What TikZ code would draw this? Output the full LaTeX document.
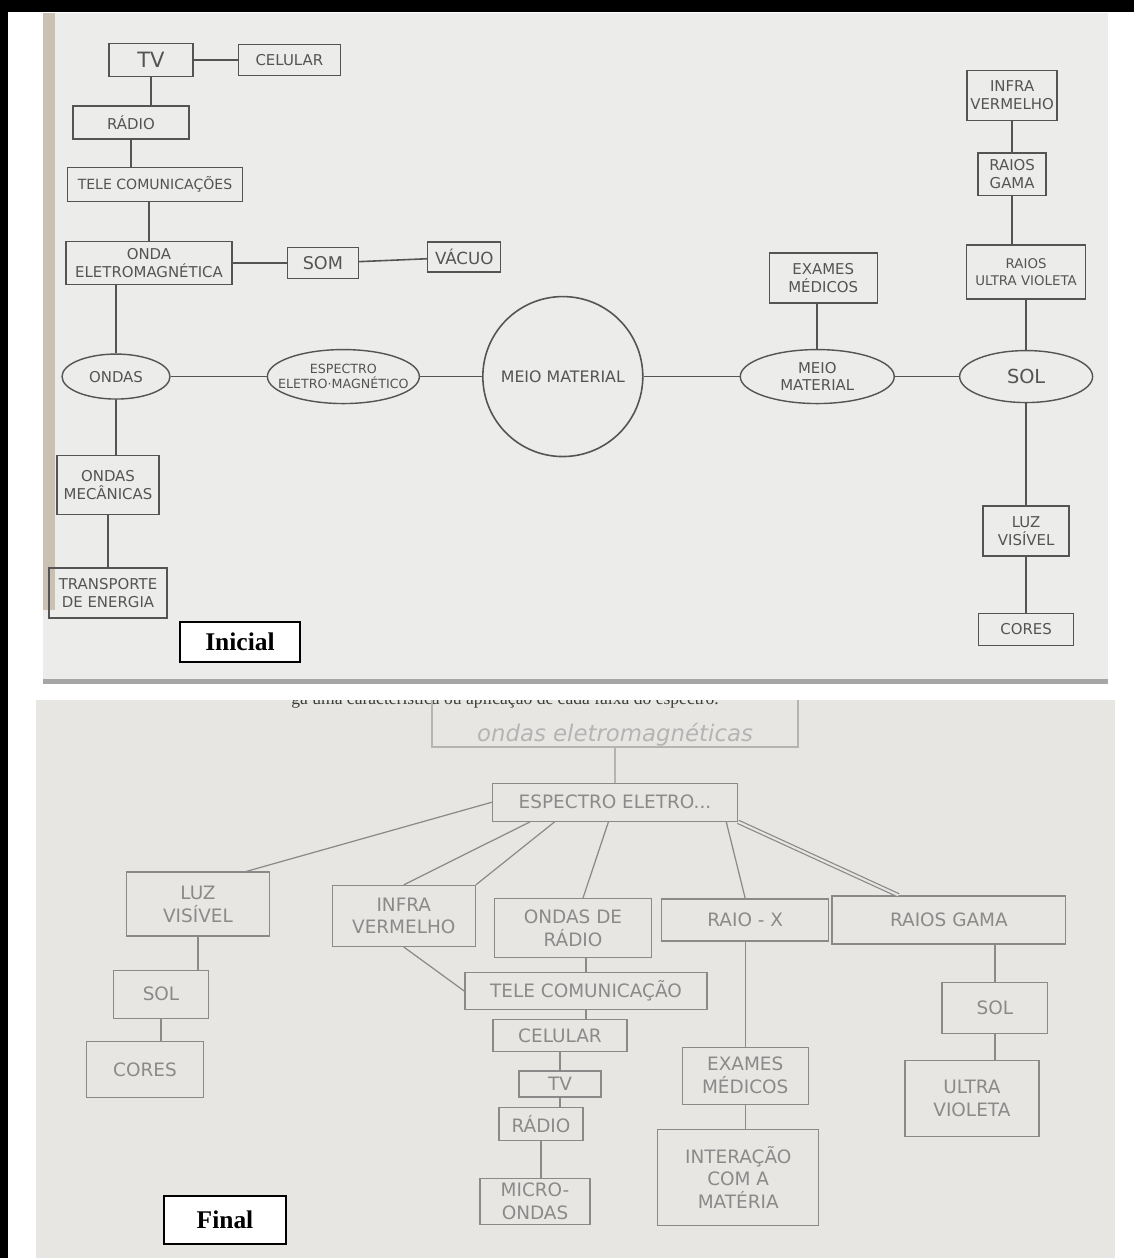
\documentclass[tikz,border=0pt]{standalone}
\usepackage{fontspec}
\usetikzlibrary{shapes,shapes.geometric,positioning}
\newfontfamily\hand{DejaVu Sans}
\newfontfamily\tnr{Liberation Serif}
\definecolor{pencil}{HTML}{545454}
\definecolor{pencilsoft}{HTML}{8A8A8A}
\definecolor{ghost}{HTML}{B4B4B4}
\definecolor{paper}{HTML}{ECECEA}
\definecolor{paperb}{HTML}{E7E6E3}
\definecolor{desk}{HTML}{CBC1B2}
\definecolor{printed}{HTML}{3C3C3C}

\begin{document}
\begin{tikzpicture}[
    x=0.02cm,y=-0.02cm,node distance=1cm,
    font=\hand\fontsize{8.5}{10}\selectfont,
    every label/.style={text=pencil,align=center},
    box/.style={draw=pencil,line width=0.8pt,inner sep=1pt,align=center,text=pencil},
    oval/.style={ellipse,draw=pencil,line width=0.8pt,inner sep=0pt},
    fbox/.style={draw=pencilsoft,line width=0.7pt,inner sep=1pt,align=center,text=pencilsoft,
        font=\hand\fontsize{10.5}{13}\selectfont},
    tag/.style={draw=black,line width=1.2pt,fill=white,text=black,
        font=\tnr\bfseries\fontsize{14.5}{16}\selectfont},
    link/.style={draw=pencil,line width=0.9pt},
    flink/.style={draw=pencilsoft,line width=0.7pt}]
    \useasboundingbox (0,0) rectangle (1134,1258);
    \fill[black] (0,0) rectangle (8,1258);
    \fill[black] (0,0) rectangle (1134,12);
    \fill[paper] (43,13) rectangle (1108,684);
    \fill[desk] (43,13) rectangle (55,610);
    \fill[black!35] (43,679) rectangle (1108,684);
    \fill[paperb] (36,700) rectangle (1115,1258);

    \node[box,minimum width=1.68cm,minimum height=.66cm,font=\hand\fontsize{12}{13}\selectfont] (TV) at (151,60) {TV};
    \node[box,minimum width=2.04cm,minimum height=.62cm] (CELULAR) [right=.88cm of TV] {CELULAR};
    \node[box,minimum width=2.32cm,minimum height=.66cm] (RADIO) [below=.56cm of TV,xshift=-.4cm] {RÁDIO};
    \node[box,minimum width=3.5cm,minimum height=.68cm,font=\hand\fontsize{8}{10}\selectfont] (TELECOM) [below=.54cm of RADIO,xshift=.48cm] {TELE COMUNICAÇÕES};
    \node[box,minimum width=3.32cm,minimum height=.86cm] (ONDAEM) [below=.78cm of TELECOM,xshift=-.12cm] {ONDA\\ELETROMAGNÉTICA};
    \node[box,minimum width=1.42cm,minimum height=.62cm,font=\hand\fontsize{10}{11}\selectfont] (SOM) [right=1.08cm of ONDAEM] {SOM};
    \node[box,minimum width=1.46cm,minimum height=.6cm,font=\hand\fontsize{9.5}{11}\selectfont] (VACUO) [right=1.36cm of SOM,yshift=.12cm] {VÁCUO};
    \node[oval,minimum width=2.16cm,minimum height=.9cm,label=center:ONDAS] (ONDAS) [below=1.36cm of ONDAEM,xshift=-.66cm] {};
    \node[box,minimum width=2.04cm,minimum height=1.18cm] (MECANICAS) [below=1.1cm of ONDAS,xshift=-.16cm] {ONDAS\\MECÂNICAS};
    \node[box,minimum width=2.36cm,minimum height=1cm] (TRANSPORTE) [below=1.04cm of MECANICAS] {TRANSPORTE\\DE ENERGIA};
    \node[oval,minimum width=3.04cm,minimum height=1.08cm,label={[font=\hand\fontsize{7.2}{8.8}\selectfont]center:{ESPECTRO\\ELETRO·MAGNÉTICO}}] (ESPECTRO) [right=1.92cm of ONDAS] {};
    \node[circle,draw=pencil,line width=0.9pt,minimum size=3.2cm,label={[font=\hand\fontsize{9}{10}\selectfont]center:MEIO MATERIAL}] (MEIO) [right=1.24cm of ESPECTRO] {};
    \node[oval,minimum width=3.08cm,minimum height=1.08cm,label=center:{MEIO\\MATERIAL}] (MEIOMAT) [right=1.92cm of MEIO] {};
    \node[oval,minimum width=2.66cm,minimum height=1.04cm,label={[font=\hand\fontsize{11}{12}\selectfont]center:SOL}] (SOL) [right=1.28cm of MEIOMAT] {};
    \node[box,minimum width=2.16cm,minimum height=1cm] (EXAMES) [above=.9cm of MEIOMAT,xshift=.12cm] {EXAMES\\MÉDICOS};
    \node[box,minimum width=2.38cm,minimum height=1.08cm,font=\hand\fontsize{7.6}{10}\selectfont] (RAIOSUV) [above=1cm of SOL] {RAIOS\\ULTRA VIOLETA};
    \node[box,minimum width=1.36cm,minimum height=.86cm] (RAIOSGAMA) [above=.96cm of RAIOSUV,xshift=-.28cm] {RAIOS\\GAMA};
    \node[box,minimum width=1.8cm,minimum height=1cm] (INFRA) [above=.62cm of RAIOSGAMA] {INFRA\\VERMELHO};
    \node[box,minimum width=1.72cm,minimum height=1cm] (LUZ) [below=2.04cm of SOL] {LUZ\\VISÍVEL};
    \node[box,minimum width=1.9cm,minimum height=.64cm] (CORES) [below=1.12cm of LUZ] {CORES};
    \node[tag,minimum width=2.4cm,minimum height=.8cm] (INICIAL) at (240,642) {Inicial};

    \draw[link] (TV) -- (CELULAR);
    \draw[link] (TV) -- (TV |- RADIO.north);
    \draw[link] (RADIO) -- (RADIO |- TELECOM.north);
    \draw[link] (ONDAEM) -- (ONDAEM |- TELECOM.south);
    \draw[link] (ONDAEM) -- (SOM);
    \draw[link] (SOM) -- (VACUO);
    \draw[link] (ONDAS) -- (ONDAS |- ONDAEM.south);
    \draw[link] (ONDAS) -- (ONDAS |- MECANICAS.north);
    \draw[link] (TRANSPORTE) -- (TRANSPORTE |- MECANICAS.south);
    \draw[link] (ONDAS) -- (ESPECTRO);
    \draw[link] (ESPECTRO) -- (MEIO);
    \draw[link] (MEIO) -- (MEIOMAT);
    \draw[link] (MEIOMAT) -- (SOL);
    \draw[link] (MEIOMAT) -- (MEIOMAT |- EXAMES.south);
    \draw[link] (INFRA) -- (RAIOSGAMA);
    \draw[link] (RAIOSGAMA) -- (RAIOSGAMA |- RAIOSUV.north);
    \draw[link] (RAIOSUV) -- (SOL);
    \draw[link] (SOL) -- (LUZ);
    \draw[link] (LUZ) -- (CORES);

    \begin{scope}
    \clip (36,700) rectangle (1115,1258);
    \node[font=\tnr\fontsize{10}{12}\selectfont,text=printed,anchor=base] (ENUNCIADO) at (505,704) {ga uma característica ou aplicação de cada faixa do espectro.};
    \node[fbox,draw=ghost,minimum width=7.32cm,minimum height=1cm,label={[text=ghost,font=\hand\itshape\fontsize{13}{15}\selectfont,yshift=-7pt]center:ondas eletromagnéticas}] (ONDASEM) at (615,722) {};
    \node[fbox,minimum width=4.9cm,minimum height=.76cm] (ESPECEL) [below=.7cm of ONDASEM] {ESPECTRO ELETRO...};
    \node[fbox,minimum width=3.14cm,minimum height=1.18cm] (ONDASRADIO) [below=1.52cm of ESPECEL,xshift=-.84cm] {ONDAS DE\\RÁDIO};
    \node[fbox,minimum width=2.86cm,minimum height=1.22cm] (INFRAV) [left=.36cm of ONDASRADIO,yshift=.24cm] {INFRA\\VERMELHO};
    \node[fbox,minimum width=3.34cm,minimum height=.84cm] (RAIOX) [right=.18cm of ONDASRADIO,yshift=.16cm] {RAIO - X};
    \node[fbox,minimum width=4.68cm,minimum height=.96cm] (GAMA) [right=.04cm of RAIOX] {RAIOS GAMA};
    \node[fbox,minimum width=2.86cm,minimum height=1.28cm] (LUZVIS) at (198,904) {LUZ\\VISÍVEL};
    \node[fbox,minimum width=1.9cm,minimum height=.96cm] (SOLB) [below=.66cm of LUZVIS,xshift=-.74cm] {SOL};
    \node[fbox,minimum width=2.34cm,minimum height=1.12cm] (CORESB) [below=.44cm of SOLB,xshift=-.32cm] {CORES};
    \node[fbox,minimum width=4.84cm,minimum height=.74cm] (TELECOMB) [below=.28cm of ONDASRADIO,xshift=.26cm] {TELE COMUNICAÇÃO};
    \node[fbox,minimum width=2.68cm,minimum height=.64cm] (CELULARB) [below=.18cm of TELECOMB,xshift=-.52cm] {CELULAR};
    \node[fbox,minimum width=1.64cm,minimum height=.52cm] (TVB) [below=.36cm of CELULARB] {TV};
    \node[fbox,minimum width=1.68cm,minimum height=.66cm] (RADIOB) [below=.18cm of TVB,xshift=-.38cm] {RÁDIO};
    \node[fbox,minimum width=2.2cm,minimum height=.92cm] (MICRO) [below=.74cm of RADIOB,xshift=-.12cm] {MICRO-\\ONDAS};
    \node[fbox,minimum width=2.52cm,minimum height=1.14cm] (EXAMESB) [below=2.1cm of RAIOX] {EXAMES\\MÉDICOS};
    \node[fbox,minimum width=3.22cm,minimum height=1.92cm] (INTERACAO) [below=.48cm of EXAMESB,xshift=-.14cm] {INTERAÇÃO\\COM A\\MATÉRIA};
    \node[fbox,minimum width=2.12cm,minimum height=1.02cm] (SOLC) [below=.74cm of GAMA,xshift=.92cm] {SOL};
    \node[fbox,minimum width=2.68cm,minimum height=1.52cm] (ULTRAV) [below=.52cm of SOLC,xshift=-.46cm] {ULTRA\\VIOLETA};
    \node[tag,minimum width=2.44cm,minimum height=.96cm] (FINAL) at (225,1220) {Final};

    \draw[flink,draw=ghost] (ONDASEM) -- (ESPECEL);
    \draw[flink] (ESPECEL.west) -- (LUZVIS.34);
    \draw[flink] (ESPECEL.193) -- (INFRAV.north);
    \draw[flink] (ESPECEL.198) -- (INFRAV.north east);
    \draw[flink] (ESPECEL) -- (ONDASRADIO);
    \draw[flink] (ESPECEL.-10) -- (RAIOX.north);
    \draw[flink,double=paperb,double distance=1.2pt] (ESPECEL.south east) -- (GAMA.154);
    \draw[flink] (INFRAV.south) -- (TELECOMB.west);
    \draw[flink] (TELECOMB) -- (TELECOMB |- ONDASRADIO.south);
    \draw[flink] (TELECOMB) -- (TELECOMB |- CELULARB.north);
    \draw[flink] (CELULARB) -- (CELULARB |- TVB.north);
    \draw[flink] (TVB) -- (TVB |- RADIOB.north);
    \draw[flink] (RADIOB) -- (RADIOB |- MICRO.north);
    \draw[flink] (RAIOX) -- (RAIOX |- EXAMESB.north);
    \draw[flink] (EXAMESB) -- (EXAMESB |- INTERACAO.north);
    \draw[flink] (SOLC) -- (SOLC |- GAMA.south);
    \draw[flink] (SOLC) -- (SOLC |- ULTRAV.north);
    \draw[flink] (LUZVIS) -- (LUZVIS |- SOLB.north);
    \draw[flink] (SOLB) -- (SOLB |- CORESB.north);
    \end{scope}
\end{tikzpicture}
\end{document}
